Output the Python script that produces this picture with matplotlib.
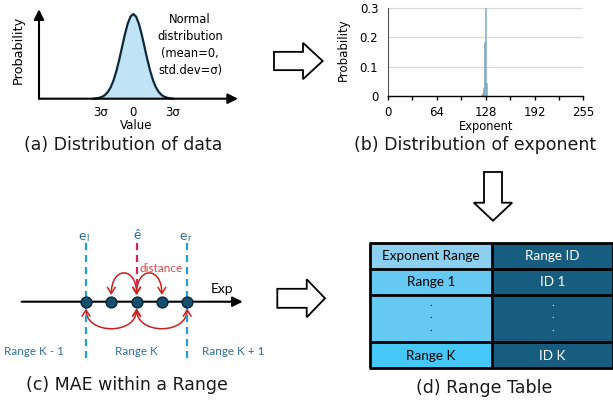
import numpy as np
import matplotlib.pyplot as plt
from matplotlib.patches import Rectangle, FancyArrow, FancyArrowPatch
from matplotlib.path import Path

W, H = 613, 405

# --------------------------------------------------
# (a) normal curve (x in sigma, y relative to peak)
# --------------------------------------------------
curve_x = [-3.5, -3.25, -3.0, -2.75, -2.5, -2.25, -2.0, -1.75, -1.5, -1.25,
           -1.0, -0.75, -0.5, -0.25, 0.0, 0.25, 0.5, 0.75, 1.0, 1.25,
           1.5, 1.75, 2.0, 2.25, 2.5, 2.75, 3.0, 3.25, 3.5]
curve_y = [0.0, 0.005, 0.011, 0.023, 0.044, 0.080, 0.135, 0.216, 0.325, 0.458,
           0.607, 0.755, 0.883, 0.969, 1.0, 0.969, 0.883, 0.755, 0.607, 0.458,
           0.325, 0.216, 0.135, 0.080, 0.044, 0.023, 0.011, 0.005, 0.0]
value_ticks = [-2.9, 0, 3.5]
value_labels = ["3σ", "0", "3σ"]
note_lines = ["Normal", "distribution", "(mean=0,", "std.dev=σ)"]

# --------------------------------------------------
# (b) exponent histogram
# --------------------------------------------------
exp_bins = [122, 123, 124, 125, 126, 127, 128]
exp_prob = [0.004, 0.01, 0.026, 0.051, 0.184, 0.30, 0.046]
exp_ticks = [0, 32, 64, 96, 128, 160, 192, 224, 255]
exp_tick_labels = ["0", "", "64", "", "128", "", "192", "", "255"]
prob_ticks = [0, 0.1, 0.2, 0.3]
prob_labels = ["0", "0.1", "0.2", "0.3"]

# --------------------------------------------------
# (c) exponents inside one range
# --------------------------------------------------
range_exps = [0, 1, 2, 3, 4]
e_left, e_hat, e_right = 0, 2, 4
range_names = ["Range K - 1", "Range K", "Range K + 1"]

# --------------------------------------------------
# (d) range table
# --------------------------------------------------
table_ranges = ["Exponent Range", "Range 1", "...", "Range K"]
table_ids = ["Range ID", "ID 1", "...", "ID K"]
range_colors = ["#8dcfee", "#66c9f2", "#66c9f2", "#45c8f8"]
id_color = "#165d80"

captions = ["(a) Distribution of data", "(b) Distribution of exponent",
            "(c) MAE within a Range", "(d) Range Table"]

CAL = ["Lato", "DejaVu Sans"]
STEEL = "#2f6f94"
RED = "#cc1f1f"


def px_box(x0, y0, x1, y1):
    return [x0 / W, 1 - y1 / H, (x1 - x0) / W, (y1 - y0) / H]


fig = plt.figure(figsize=(W / 100, H / 100), dpi=100)
ov = fig.add_axes([0, 0, 1, 1])
ov.set_xlim(0, W)
ov.set_ylim(H, 0)
ov.axis("off")

# ---------------- (a) ----------------
sig = 11.3
ax_a = fig.add_axes(px_box(39, 9.3, 238, 98.7))
ax_a.set_facecolor("none")
ax_a.set_xlim((39 - 133.3) / sig, (238 - 133.3) / sig)
ax_a.set_ylim(0, (98.7 - 9.3) / (98.7 - 14))
ax_a.fill_between(curve_x, curve_y, color="#c0e4f6", lw=0)
ax_a.plot(curve_x, curve_y, color="#0c2a3b", lw=1.6, clip_on=False)
for s in ax_a.spines.values():
    s.set_visible(False)
arr = dict(arrowstyle="-|>,head_length=0.6,head_width=0.3", color="black",
           lw=1.5, shrinkA=0, shrinkB=0, mutation_scale=10)
ax_a.annotate("", xy=(0, 1), xytext=(0, 0), xycoords="axes fraction", arrowprops=arr)
ax_a.annotate("", xy=(1, 0), xytext=(0, 0), xycoords="axes fraction", arrowprops=arr)
ax_a.set_xticks(value_ticks, value_labels)
ax_a.set_yticks([])
ax_a.tick_params(axis="x", length=0, pad=5, labelsize=8.5)
ov.text(18, 50, "Probability", rotation=90, ha="center", va="center", fontsize=9.3)
ov.text(136, 129, "Value", ha="center", va="baseline", fontsize=8.5)
for i, line in enumerate(note_lines):
    ov.text(190, 22.7 + 17.1 * i, line, ha="center", va="baseline", fontsize=8.3)

# ---------------- (b) ----------------
ax_b = fig.add_axes(px_box(388, 6, 583, 96))
ax_b.set_facecolor("none")
ax_b.bar(exp_bins, exp_prob, width=1, align="edge", color="#a9c9d9",
         edgecolor="#6f9fb8", lw=0.4)
ax_b.set_xlim(0, 255)
ax_b.set_ylim(0, 0.3 + 2 * 0.3 / 88)
ax_b.set_yticks(prob_ticks, prob_labels)
ax_b.set_xticks(exp_ticks, exp_tick_labels)
ax_b.grid(axis="y", color="#d9d9d9", lw=0.8)
ax_b.set_axisbelow(True)
ax_b.spines["top"].set_visible(False)
ax_b.spines["right"].set_visible(False)
ax_b.spines["left"].set_color("#555555")
ax_b.spines["left"].set_linewidth(0.8)
ax_b.spines["left"].set_bounds(0, 0.3)
ax_b.spines["bottom"].set_linewidth(1.0)
ax_b.tick_params(axis="x", length=3, width=1, direction="out", labelsize=8.5, pad=4)
ax_b.tick_params(axis="y", length=0, labelsize=8.5, pad=7)
ov.text(343, 50, "Probability", rotation=90, ha="center", va="center", fontsize=8.5)
ov.text(486, 130, "Exponent", ha="center", va="baseline", fontsize=8.3)

# ---------------- block arrows ----------------
blk = dict(length_includes_head=True, fc="white", ec="black", lw=1.3)
ov.add_patch(FancyArrow(274, 61, 48.7, 0, width=18.3, head_width=36.3,
                        head_length=19.7, **blk))
ov.add_patch(FancyArrow(493, 172, 0, 48.7, width=18, head_width=38.4,
                        head_length=18, **blk))
ov.add_patch(FancyArrow(277.3, 298.3, 47.7, 0, width=19, head_width=38,
                        head_length=18.3, **blk))

# ---------------- (c) ----------------
step = 25.3
ax_c = fig.add_axes(px_box(0, 225, 300, 372))
ax_c.set_facecolor("none")
ax_c.set_xlim((0 - 86) / step, (300 - 86) / step)
ax_c.set_ylim(372, 225)
ax_c.axis("off")
y0 = 301.7

dash = (0, (3.2, 2.2))
for e in (e_left, e_right):
    ax_c.plot([e, e], [243, 362], ls=dash, color="#1ea0dc", lw=1.6)
ax_c.plot([e_hat, e_hat], [243, 291], ls=dash, color="#d0245a", lw=1.6)

ax_c.annotate("", xy=((242.7 - 86) / step, y0), xytext=((21.7 - 86) / step, y0),
              arrowprops=dict(arrowstyle="-|>,head_length=0.6,head_width=0.3",
                              color="black", lw=1.5, shrinkA=0, shrinkB=0,
                              mutation_scale=10))


def arc(a, b, ya, yc):
    p = Path([(a, ya), (a, yc), (b, yc), (b, ya)],
             [Path.MOVETO, Path.CURVE4, Path.CURVE4, Path.CURVE4])
    ax_c.add_patch(FancyArrowPatch(path=p, arrowstyle="<->,head_length=0.45,head_width=0.28",
                                   mutation_scale=10, color=RED, lw=1.1,
                                   transform=ax_c.transData))


arc(e_hat, e_hat - 1, 295, 266)
arc(e_hat, e_hat + 1, 295, 266)
arc(e_hat, e_left, 308.5, 335)
arc(e_hat, e_right, 308.5, 335)

ax_c.plot(range_exps, [y0] * len(range_exps), "o", ms=7.8, mfc="#17506f",
          mec="#0a2536", mew=1.0, zorder=5)

ax_c.text(e_left, 236, "e", ha="right", va="center", color=STEEL, fontsize=10, family=CAL)
ax_c.text(e_left, 238.5, "l", ha="left", va="center", color=STEEL, fontsize=7, family=CAL)
ax_c.text(e_right, 236, "e", ha="right", va="center", color=STEEL, fontsize=10, family=CAL)
ax_c.text(e_right, 238.5, "r", ha="left", va="center", color=STEEL, fontsize=7, family=CAL)
ax_c.text(e_hat, 235, "ê", ha="center", va="center", color=STEEL, fontsize=10, family=CAL)
ax_c.text((140 - 86) / step, 268.3, "distance", ha="left", va="center", color="#e04848",
          fontsize=8.5, family=CAL)
ax_c.text((211 - 86) / step, 289, "Exp", ha="left", va="center", color="black",
          fontsize=10, family=CAL)
for xpx, name in zip([34, 136.7, 233], range_names):
    ax_c.text((xpx - 86) / step, 351.5, name, ha="center", va="center", color=STEEL,
              fontsize=8.4, family=CAL)

# ---------------- (d) ----------------
col_x = [370, 492.3, 613]
row_y = [242.7, 268.7, 295, 341.7, 368.3]
for i in range(len(table_ranges)):
    top, bot = row_y[i], row_y[i + 1]
    ov.add_patch(Rectangle((col_x[0], top), col_x[1] - col_x[0], bot - top,
                           fc=range_colors[i], ec="none"))
    ov.add_patch(Rectangle((col_x[1], top), col_x[2] - col_x[1], bot - top,
                           fc=id_color, ec="none"))
    cy = (top + bot) / 2
    for cx, txt, col in [((col_x[0] + col_x[1]) / 2, table_ranges[i], "black"),
                         ((col_x[1] + col_x[2]) / 2, table_ids[i], "white")]:
        if txt == "...":
            for k in (-1, 0, 1):
                ov.text(cx, cy + 12.7 * k, ".", ha="center", va="baseline",
                        color=col, fontsize=8, family=CAL)
        else:
            ov.text(cx, cy + 0.5, txt, ha="center", va="center", color=col,
                    fontsize=9.7, family=CAL)
for y in row_y:
    ov.plot([col_x[0] - 1, col_x[2]], [y, y], color="black", lw=2, solid_capstyle="butt")
for x in col_x:
    ov.plot([x, x], [row_y[0], row_y[-1]], color="black", lw=2, solid_capstyle="butt")

# ---------------- captions ----------------
for (cx, cy), cap in zip([(123, 150), (475, 150.5), (126.7, 390), (483.7, 393)], captions):
    ov.text(cx, cy, cap, ha="center", va="baseline", fontsize=12.5, color="#1a1a1a")

fig.savefig("out.png", dpi=100)
